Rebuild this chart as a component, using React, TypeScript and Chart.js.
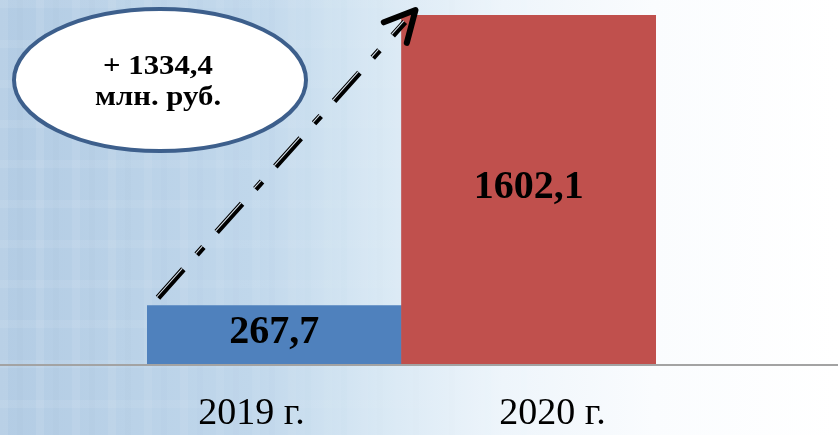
import React, { useEffect, useRef } from 'react';
import { Chart, registerables } from 'chart.js';

Chart.register(...registerables);

// ---- data ----
const categories: string[] = ['2019 г.', '2020 г.'];
const values: number[] = [267.7, 1602.1];
const barColors: string[] = ['#4f81bd', '#c0504d'];
const unitText = 'млн. руб.';

const SERIF = "'Liberation Serif', 'Times New Roman', Times, serif";

const fmt = (v: number) => v.toFixed(1).replace('.', ',');

const backgroundPlugin = {
  id: 'bgPlaid',
  beforeDraw(chart: any) {
    const { ctx, width, height } = chart;
    ctx.save();
    const g = ctx.createLinearGradient(0, 0, width, 0);
    g.addColorStop(0, '#b3cce4');
    g.addColorStop(0.3, '#c0d7eb');
    g.addColorStop(0.45, '#d8e8f4');
    g.addColorStop(0.6, '#eef5fb');
    g.addColorStop(0.78, '#fafcfe');
    g.addColorStop(1, '#ffffff');
    ctx.fillStyle = g;
    ctx.fillRect(0, 0, width, height);
    // faint plaid stripes
    for (let x = 0; x < 560; x += 36) {
      const a = 0.09 * (1 - x / 560);
      ctx.fillStyle = `rgba(255,255,255,${a})`;
      ctx.fillRect(x, 0, 8, height);
      ctx.fillStyle = `rgba(110,145,190,${a * 0.3})`;
      ctx.fillRect(x + 17, 0, 6, height);
    }
    const hg = ctx.createLinearGradient(0, 0, 560, 0);
    hg.addColorStop(0, 'rgba(255,255,255,0.08)');
    hg.addColorStop(1, 'rgba(255,255,255,0)');
    for (let y = 0; y < height; y += 40) {
      ctx.fillStyle = hg;
      ctx.fillRect(0, y, 560, 8);
    }
    ctx.restore();
  },
};

const overlayPlugin = {
  id: 'overlay',
  afterDatasetsDraw(chart: any) {
    const { ctx, chartArea, width } = chart;
    ctx.save();
    // full-width baseline
    ctx.strokeStyle = '#a3a3a3';
    ctx.lineWidth = 2;
    ctx.beginPath();
    ctx.moveTo(0, chartArea.bottom + 1);
    ctx.lineTo(width, chartArea.bottom + 1);
    ctx.stroke();

    const meta = chart.getDatasetMeta(0);
    const bars = meta.data;
    // value labels
    ctx.fillStyle = '#000';
    ctx.font = `bold 40px ${SERIF}`;
    ctx.textAlign = 'center';
    ctx.textBaseline = 'middle';
    bars.forEach((b: any, i: number) => {
      const cy = (b.y + b.base) / 2 - 2;
      ctx.fillText(fmt(values[i]), b.x, cy);
    });

    // arrow from blue bar to red bar
    const b0 = bars[0];
    const b1 = bars[1];
    const sx = b0.x - b0.width / 2 + 11;
    const sy = b0.y - 8;
    const tx = b1.x - b1.width / 2 + 14;
    const ty = b1.y - 5;
    const dx = tx - sx;
    const dy = ty - sy;
    const len = Math.hypot(dx, dy);
    const ux = dx / len;
    const uy = dy / len;
    const ex = tx - ux * 16;
    const ey = ty - uy * 16;
    ctx.setLineDash([38, 20, 10, 20]);
    ctx.lineCap = 'butt';
    ctx.strokeStyle = '#000';
    ctx.lineWidth = 6;
    ctx.beginPath();
    ctx.moveTo(sx, sy);
    ctx.lineTo(ex, ey);
    ctx.stroke();
    // double-line highlight
    const nx = uy;
    const ny = -ux;
    const off = -1.4;
    ctx.strokeStyle = 'rgba(225,236,246,0.95)';
    ctx.lineWidth = 1.1;
    ctx.beginPath();
    ctx.moveTo(sx - nx * off, sy - ny * off);
    ctx.lineTo(ex - nx * off, ey - ny * off);
    ctx.stroke();
    ctx.setLineDash([]);
    // arrow head
    ctx.strokeStyle = '#000';
    ctx.lineWidth = 6;
    ctx.lineCap = 'round';
    ctx.lineJoin = 'round';
    const bx = -ux;
    const by = -uy;
    const ang = (27 * Math.PI) / 180;
    const hl = 34;
    const r1x = bx * Math.cos(ang) - by * Math.sin(ang);
    const r1y = bx * Math.sin(ang) + by * Math.cos(ang);
    const r2x = bx * Math.cos(-ang) - by * Math.sin(-ang);
    const r2y = bx * Math.sin(-ang) + by * Math.cos(-ang);
    ctx.beginPath();
    ctx.moveTo(tx + r1x * hl, ty + r1y * hl);
    ctx.lineTo(tx, ty);
    ctx.lineTo(tx + r2x * hl, ty + r2y * hl);
    ctx.stroke();

    // ellipse callout
    ctx.beginPath();
    ctx.ellipse(160, 80, 146, 71, 0, 0, Math.PI * 2);
    ctx.fillStyle = '#ffffff';
    ctx.fill();
    ctx.strokeStyle = '#3d5f8c';
    ctx.lineWidth = 4;
    ctx.stroke();

    const diff = values[1] - values[0];
    ctx.fillStyle = '#000';
    ctx.font = `bold 27px ${SERIF}`;
    ctx.textBaseline = 'alphabetic';
    ctx.textAlign = 'center';
    ctx.save();
    ctx.translate(158, 0);
    ctx.scale(1.14, 1);
    ctx.fillText('+ ' + fmt(diff), 0, 74);
    ctx.fillText(unitText, 0, 105);
    ctx.restore();
    ctx.restore();
  },
};

// horizontal tick positions of the category labels (fraction of plot width)
const labelTickPos = [0.2053, 0.7967];

export default function App() {
  const ref = useRef<HTMLCanvasElement | null>(null);
  useEffect(() => {
    document.body.style.margin = '0';
    const canvas = ref.current;
    if (!canvas) return;
    const chart = new Chart(canvas, {
      type: 'bar',
      data: {
        labels: categories,
        datasets: [
          {
            data: values,
            backgroundColor: barColors,
            borderWidth: 0,
            barPercentage: 1,
            categoryPercentage: 1,
            xAxisID: 'x',
            yAxisID: 'y',
          },
        ],
      },
      options: {
        animation: false,
        responsive: false,
        devicePixelRatio: 1,
        layout: { padding: { left: 147, right: 182, top: 15, bottom: 0 } },
        plugins: { legend: { display: false }, tooltip: { enabled: false } },
        scales: {
          x: { type: 'category', display: false, offset: true },
          x2: {
            type: 'linear',
            position: 'bottom',
            min: 0,
            max: 1,
            offset: false,
            grid: { display: false, drawTicks: false, offset: false },
            border: { display: false },
            afterBuildTicks: (axis: any) => {
              axis.ticks = labelTickPos.map((v) => ({ value: v }));
            },
            afterFit: (axis: any) => {
              axis.height = 71;
            },
            ticks: {
              padding: 27,
              autoSkip: false,
              maxRotation: 0,
              color: '#000',
              font: { family: SERIF, size: 38 },
              callback: (_v: any, i: number) => categories[i],
            },
          },
          y: { display: false, min: 0, max: Math.max(...values) },
        },
      } as any,
      plugins: [backgroundPlugin, overlayPlugin],
    });
    return () => chart.destroy();
  }, []);
  return (
    <div style={{ width: 838, height: 435 }}>
      <canvas ref={ref} width={838} height={435} style={{ display: 'block' }} />
    </div>
  );
}
